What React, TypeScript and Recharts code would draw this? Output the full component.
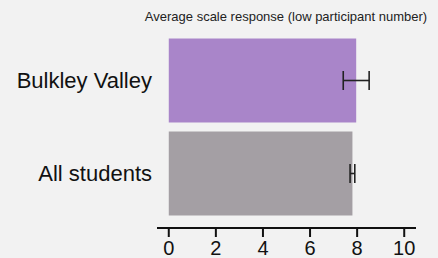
import { Bar, BarChart, Cell, ErrorBar, XAxis, YAxis } from "recharts";

const groups = ["Bulkley Valley", "All students"];
const means = [7.96, 7.8];
const errors = [0.55, 0.1];
const barColors = ["#a985c9", "#a49fa4"];
const xTicks = [0, 2, 4, 6, 8, 10];

const rows = groups.map((name, i) => ({ name, value: means[i], err: errors[i] }));

const font = "'Liberation Sans', Arial, sans-serif";

export default function App() {
  return (
    <div
      style={{
        position: "absolute",
        left: 0,
        top: 0,
        width: 438,
        height: 258,
        background: "#f2f2f2",
        fontFamily: font,
      }}
    >
      <div
        style={{
          position: "absolute",
          left: 0,
          width: 572,
          top: 9,
          textAlign: "center",
          fontSize: 13,
          color: "#222",
          lineHeight: "16px",
        }}
      >
        Average scale response (low participant number)
      </div>
      <BarChart
        width={438}
        height={258}
        data={rows}
        layout="vertical"
        margin={{ top: 34, right: 22, left: 0, bottom: 0 }}
        barCategoryGap={4.5}
      >
        <XAxis
          type="number"
          domain={[-0.5, 10.5]}
          ticks={xTicks}
          height={30}
          tickSize={9}
          tickMargin={4}
          axisLine={{ stroke: "#111", strokeWidth: 2 }}
          tickLine={{ stroke: "#111", strokeWidth: 2 }}
          tick={{ fill: "#111", fontSize: 20, fontFamily: font }}
        />
        <YAxis
          type="category"
          dataKey="name"
          width={157}
          padding={{ top: 0, bottom: 8 }}
          axisLine={false}
          tickLine={false}
          tickSize={0}
          tickMargin={5}
          tick={{ fill: "#111", fontSize: 22, fontFamily: font }}
        />
        <Bar dataKey="value" isAnimationActive={false}>
          {rows.map((r, i) => (
            <Cell key={r.name} fill={barColors[i]} />
          ))}
          <ErrorBar
            dataKey="err"
            direction="x"
            width={9.5}
            stroke="#222"
            strokeWidth={1.6}
          />
        </Bar>
      </BarChart>
    </div>
  );
}
